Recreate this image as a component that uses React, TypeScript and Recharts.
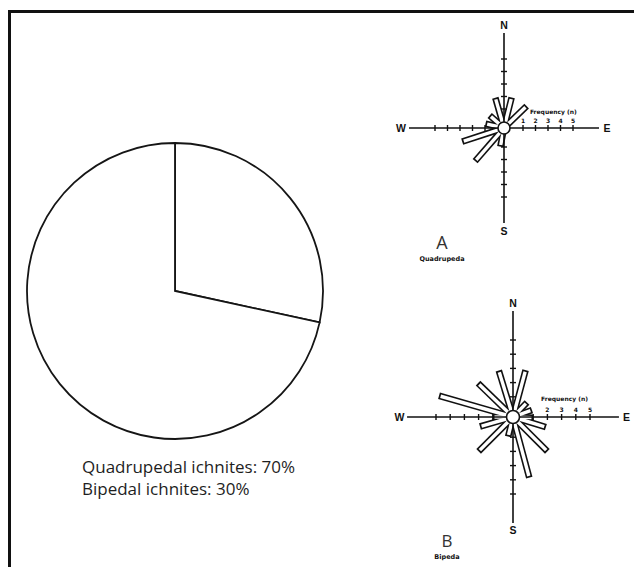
import { PieChart, Pie, Cell, ScatterChart, Scatter, XAxis, YAxis, ReferenceLine, ReferenceDot } from "recharts";

// pie: split as drawn (labels below read 70 / 30)
const trackTypes = ["Bipedal ichnites", "Quadrupedal ichnites"];
const trackShares = [28.4, 71.6];
const shareLabels = ["Quadrupedal ichnites: 70%", "Bipedal ichnites: 30%"];

// rose A - quadrupeds (azimuth in degrees from N, frequency n)
const quadAzimuths = [14, 46, 191, 221, 252, 283, 311, 344];
const quadCounts = [2, 2, 1, 3, 3, 1, 1, 2];

// rose B - bipeds
const bipedAzimuths = [15, 44, 70, 92, 107, 135, 165, 194, 225, 254, 270, 286, 314, 343];
const bipedCounts = [3, 1, 1, 1, 2, 3, 4, 1, 3, 2, 1, 5, 3, 3];

const freqTicks = [1, 2, 3, 4, 5];
const quadTickLabels = [1, 2, 3, 4, 5];
const bipedTickLabels = [2, 3, 4, 5];
const compassPoints = ["N", "E", "S", "W"];
const compassAzimuths = [0, 90, 180, 270];

const INK = "#111";

const polar = (az: number, r: number) => ({
  x: r * Math.sin((az * Math.PI) / 180),
  y: r * Math.cos((az * Math.PI) / 180),
});

type RoseProps = {
  azimuths: number[];
  counts: number[];
  tickLabels: number[];
  size: number;
  unit: number; // px per frequency step
  hub: number; // px, radius of centre circle
  zero: number; // px, where frequency 0 sits
  axisLen: number; // in units
  labelR: number; // in units
  left: number;
  top: number;
};

function Rose({ azimuths, counts, tickLabels, size, unit, hub, zero, axisLen, labelR, left, top }: RoseProps) {
  const half = size / 2 / unit;
  const r0 = zero / unit;
  const tk = 3 / unit;
  const tips = azimuths.map((az, i) => ({ az, ...polar(az, r0 + counts[i]) }));
  const inner = azimuths.map((az, i) => polar(az, r0 + counts[i] - 1.7 / unit));

  return (
    <div style={{ position: "absolute", left, top }}>
      <ScatterChart width={size} height={size} margin={{ top: 0, right: 0, bottom: 0, left: 0 }}>
        <XAxis type="number" dataKey="x" domain={[-half, half]} hide allowDataOverflow />
        <YAxis type="number" dataKey="y" domain={[-half, half]} hide allowDataOverflow />
        <Scatter data={tips} shape={() => <g />} isAnimationActive={false} />

        {tickLabels.map((t) => (
          <ReferenceDot
            key={"tl" + t}
            x={r0 + t}
            y={0}
            r={0}
            stroke="none"
            label={{ value: t, position: "top", offset: 5, fontSize: 6, fontWeight: 700, fill: INK, fontFamily: "DejaVu Sans" }}
          />
        ))}
        <ReferenceDot
          x={r0 + 1.55}
          y={1.3}
          r={0}
          stroke="none"
          label={{ value: "Frequency (n)", position: "right", offset: 0, fontSize: 6, fontWeight: 700, fill: INK, fontFamily: "DejaVu Sans" }}
        />

        {tips.map((p, i) => (
          <ReferenceLine key={"po" + i} segment={[{ x: 0, y: 0 }, { x: p.x, y: p.y }]} stroke={INK} strokeWidth={6.6} />
        ))}
        {inner.map((p, i) => (
          <ReferenceLine key={"pi" + i} segment={[{ x: 0, y: 0 }, { x: p.x, y: p.y }]} stroke="#fff" strokeWidth={3.4} />
        ))}

        <ReferenceLine segment={[{ x: -axisLen, y: 0 }, { x: axisLen, y: 0 }]} stroke={INK} strokeWidth={1.6} />
        <ReferenceLine segment={[{ x: 0, y: -axisLen }, { x: 0, y: axisLen }]} stroke={INK} strokeWidth={1.6} />
        {freqTicks.map((t) => (
          <g key={"t" + t}>
            <ReferenceLine segment={[{ x: r0 + t, y: -tk }, { x: r0 + t, y: tk }]} stroke={INK} strokeWidth={1.4} />
            <ReferenceLine segment={[{ x: -r0 - t, y: -tk }, { x: -r0 - t, y: tk }]} stroke={INK} strokeWidth={1.4} />
            <ReferenceLine segment={[{ x: -tk, y: r0 + t }, { x: tk, y: r0 + t }]} stroke={INK} strokeWidth={1.4} />
            <ReferenceLine segment={[{ x: -tk, y: -r0 - t }, { x: tk, y: -r0 - t }]} stroke={INK} strokeWidth={1.4} />
          </g>
        ))}

        {compassPoints.map((c, i) => {
          const p = polar(compassAzimuths[i], labelR);
          return (
            <ReferenceDot
              key={c}
              x={p.x}
              y={p.y}
              r={0}
              stroke="none"
              label={{ value: c, position: "center", fontSize: 10.5, fontWeight: 700, fill: INK, fontFamily: "Liberation Sans" }}
            />
          );
        })}

        <ReferenceDot x={0} y={0} r={hub} fill="#fff" stroke={INK} strokeWidth={1.6} />
      </ScatterChart>
    </div>
  );
}

export default function App() {
  const pieData = trackTypes.map((name, i) => ({ name, value: trackShares[i] }));

  return (
    <div style={{ position: "absolute", left: 0, top: 0, width: 634, height: 567, overflow: "hidden", background: "#fff" }}>
      <div
        style={{
          position: "absolute",
          left: 8,
          top: 10,
          width: 640,
          height: 570,
          borderTop: `3px solid ${INK}`,
          borderLeft: `3px solid ${INK}`,
        }}
      />

      <svg width={634} height={567} style={{ position: "absolute", left: 0, top: 0 }}>
        {shareLabels.map((s, i) => (
          <text key={s} x={82} y={473.3 + i * 21.7} fontFamily="Open Sans" fontSize={17} fill="#1e1e1e">
            {s}
          </text>
        ))}
        <text x={442} y={248.5} textAnchor="middle" fontFamily="Open Sans" fontSize={18} fill="#333">A</text>
        <text x={442} y={260.5} textAnchor="middle" fontFamily="DejaVu Sans" fontWeight={700} fontSize={6.5} fill={INK}>Quadrupeda</text>
        <text x={447} y={547} textAnchor="middle" fontFamily="Open Sans" fontSize={17} fill="#333">B</text>
        <text x={447} y={559} textAnchor="middle" fontFamily="DejaVu Sans" fontWeight={700} fontSize={6.5} fill={INK}>Bipeda</text>
      </svg>

      <div style={{ position: "absolute", left: 20, top: 136 }}>
        <PieChart width={310} height={310} margin={{ top: 0, right: 0, bottom: 0, left: 0 }}>
          <Pie
            data={pieData}
            dataKey="value"
            nameKey="name"
            cx={155}
            cy={155}
            innerRadius={0}
            outerRadius={148}
            startAngle={90}
            endAngle={-270}
            stroke="#151515"
            strokeWidth={1.8}
            isAnimationActive={false}
          >
            {pieData.map((d) => (
              <Cell key={d.name} fill="#fff" />
            ))}
          </Pie>
        </PieChart>
      </div>

      <Rose
        azimuths={quadAzimuths}
        counts={quadCounts}
        tickLabels={quadTickLabels}
        size={240}
        unit={12.5}
        hub={6}
        zero={6.5}
        axisLen={7.6}
        labelR={8.25}
        left={384}
        top={8}
      />
      <Rose
        azimuths={bipedAzimuths}
        counts={bipedCounts}
        tickLabels={bipedTickLabels}
        size={260}
        unit={14.2}
        hub={6.5}
        zero={6}
        axisLen={7.46}
        labelR={8.0}
        left={383}
        top={287}
      />
    </div>
  );
}
